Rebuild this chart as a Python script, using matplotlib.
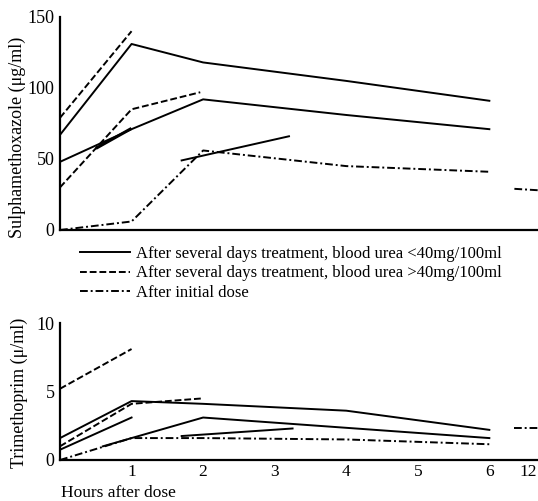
import matplotlib
matplotlib.use("Agg")
import matplotlib.pyplot as plt
from matplotlib.lines import Line2D

plt.rcParams['font.family'] = ['Liberation Serif', 'DejaVu Serif']

# hours on the axis; "12" is drawn after a break, at position 6.55
hour_ticks = [1, 2, 3, 4, 5, 6, 6.55]
hour_labels = ["1", "2", "3", "4", "5", "6", "12"]

# ---- Sulphamethoxazole (ug/ml) ----
smx_solid1_x = [0, 1, 2, 4, 6]
smx_solid1_y = [67, 131, 118, 105, 91]
smx_solid2_x = [0, 1, 2, 4, 6]
smx_solid2_y = [48, 71, 92, 81, 71]
smx_solid3_x = [0.52, 0.98]
smx_solid3_y = [58, 71]
smx_solid4_x = [1.7, 3.2]
smx_solid4_y = [49, 66]
smx_dash1_x = [0, 1]
smx_dash1_y = [79, 140]
smx_dash2_x = [0, 1, 1.96]
smx_dash2_y = [30, 85, 97]
smx_init_x = [0, 1, 2, 4, 6]
smx_init_y = [0, 6, 56, 45, 41]
smx_init12_x = [6.35, 6.68]
smx_init12_y = [29, 28]

# ---- Trimethoprim (u/ml) ----
tmp_solid1_x = [0, 1, 2, 4, 6]
tmp_solid1_y = [1.6, 4.3, 4.1, 3.6, 2.2]
tmp_solid2_x = [0, 1]
tmp_solid2_y = [0.75, 3.1]
tmp_solid3_x = [0.6, 1, 2, 6]
tmp_solid3_y = [1.0, 1.6, 3.1, 1.6]
tmp_solid4_x = [1.7, 3.25]
tmp_solid4_y = [1.75, 2.3]
tmp_dash1_x = [0, 1]
tmp_dash1_y = [5.2, 8.1]
tmp_dash2_x = [0, 1, 2]
tmp_dash2_y = [1.0, 4.1, 4.5]
tmp_init_x = [0, 1, 2, 4, 6]
tmp_init_y = [0, 1.6, 1.6, 1.5, 1.15]
tmp_init12_x = [6.35, 6.68]
tmp_init12_y = [2.3, 2.3]

legend_labels = [
    "After several days treatment, blood urea <40mg/100ml",
    "After several days treatment, blood urea >40mg/100ml",
    "After initial dose",
]

LW = 1.4
solid = dict(color="black", lw=LW, linestyle="-")
dashed = dict(color="black", lw=LW, linestyle=(0, (3.5, 1.5)))
dashdot = dict(color="black", lw=LW, linestyle=(0, (4, 1.5, 1, 1.5)))

fig = plt.figure(figsize=(5.38, 5.01), dpi=100)
ax1 = fig.add_axes([60 / 538, 1 - 230 / 501, 478 / 538, 213 / 501])
ax2 = fig.add_axes([60 / 538, 1 - 460 / 501, 478 / 538, 137 / 501])

ax1.plot(smx_solid1_x, smx_solid1_y, **solid)
ax1.plot(smx_solid2_x, smx_solid2_y, **solid)
ax1.plot(smx_solid3_x, smx_solid3_y, color="black", lw=2.2)
ax1.plot(smx_solid4_x, smx_solid4_y, **solid)
ax1.plot(smx_dash1_x, smx_dash1_y, **dashed)
ax1.plot(smx_dash2_x, smx_dash2_y, **dashed)
ax1.plot(smx_init_x, smx_init_y, **dashdot)
ax1.plot(smx_init12_x, smx_init12_y, **dashdot)

ax2.plot(tmp_solid1_x, tmp_solid1_y, **solid)
ax2.plot(tmp_solid2_x, tmp_solid2_y, **solid)
ax2.plot(tmp_solid3_x, tmp_solid3_y, **solid)
ax2.plot(tmp_solid4_x, tmp_solid4_y, **solid)
ax2.plot(tmp_dash1_x, tmp_dash1_y, **dashed)
ax2.plot(tmp_dash2_x, tmp_dash2_y, **dashed)
ax2.plot(tmp_init_x, tmp_init_y, **dashdot)
ax2.plot(tmp_init12_x, tmp_init12_y, **dashdot)

for ax, ymax, yt in [(ax1, 150, [0, 50, 100, 150]), (ax2, 10, [0, 5, 10])]:
    ax.set_xlim(0, 6.68)
    ax.set_ylim(0, ymax)
    ax.set_yticks(yt)
    ax.spines["top"].set_visible(False)
    ax.spines["right"].set_visible(False)
    for s in ["left", "bottom"]:
        ax.spines[s].set_linewidth(1.6)
    ax.tick_params(length=0, labelsize=13, pad=4)
    ax.patch.set_alpha(0)

ax1.set_xticks([])
ax2.set_xticks(hour_ticks)
ax2.set_xticklabels(hour_labels)
ax2.tick_params(axis="x", pad=3, labelsize=12.5)

fig.text(17 / 538, 1 - 137 / 501, "Sulphamethoxazole (\u03bcg/ml)", rotation=90,
         ha="center", va="center", fontsize=13)
fig.text(19 / 538, 1 - 393 / 501, "Trimethoprim (\u03bc/ml)", rotation=90,
         ha="center", va="center", fontsize=13)
fig.text(61 / 538, 1 - 493 / 501, "Hours after dose", ha="left", va="center", fontsize=12.5)

handles = [Line2D([], [], **solid), Line2D([], [], **dashed), Line2D([], [], **dashdot)]
fig.legend(handles, legend_labels, loc="upper left", bbox_to_anchor=(80 / 538, 1 - 246 / 501),
           frameon=False, fontsize=12, handlelength=3.0, handletextpad=0.35,
           labelspacing=0.2, borderaxespad=0, borderpad=0)

fig.savefig("out.png", dpi=100)
